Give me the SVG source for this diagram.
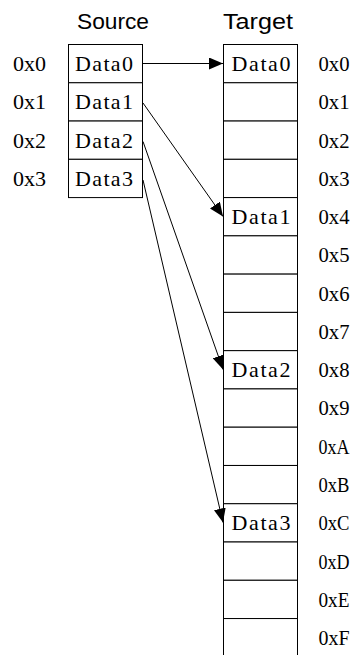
<svg xmlns="http://www.w3.org/2000/svg" width="357" height="655" viewBox="0 0 357 655">
<style>
.cell{fill:#fff;stroke:#000;stroke-width:1}
.mono{font-family:"Liberation Serif",serif;font-size:22px;fill:#000}
.title{font-family:"Liberation Sans",Arial,sans-serif;font-size:22px;fill:#000}
.conn{stroke:#000;stroke-width:1;fill:none;marker-end:url(#arr)}
</style>
<defs>
<marker id="arr" markerUnits="userSpaceOnUse" markerWidth="15" markerHeight="12" refX="14" refY="6" orient="auto">
<path d="M0,0 L14,6 L0,12 Z" fill="#000"/>
</marker>
</defs>
<rect width="357" height="655" fill="#fff"/>
<text class="title" x="77" y="29" textLength="72" lengthAdjust="spacingAndGlyphs">Source</text>
<text class="title" x="223" y="29" textLength="70" lengthAdjust="spacingAndGlyphs">Target</text>

<g id="source">
<g id="s0"><rect class="cell" x="68.5" y="44.5" width="74" height="38.27"/><text class="mono" x="13" y="71" textLength="33" lengthAdjust="spacingAndGlyphs">0x0</text><text class="mono" x="75" y="71" textLength="58" lengthAdjust="spacing">Data0</text></g>
<g id="s1"><rect class="cell" x="68.5" y="82.77" width="74" height="38.27"/><text class="mono" x="13" y="109.3" textLength="33" lengthAdjust="spacingAndGlyphs">0x1</text><text class="mono" x="75" y="109.3" textLength="58" lengthAdjust="spacing">Data1</text></g>
<g id="s2"><rect class="cell" x="68.5" y="121.04" width="74" height="38.27"/><text class="mono" x="13" y="147.5" textLength="33" lengthAdjust="spacingAndGlyphs">0x2</text><text class="mono" x="75" y="147.5" textLength="58" lengthAdjust="spacing">Data2</text></g>
<g id="s3"><rect class="cell" x="68.5" y="159.31" width="74" height="38.27"/><text class="mono" x="13" y="185.8" textLength="33" lengthAdjust="spacingAndGlyphs">0x3</text><text class="mono" x="75" y="185.8" textLength="58" lengthAdjust="spacing">Data3</text></g>
</g>

<g id="target">
<g id="t0"><rect class="cell" x="223.5" y="44.5" width="74" height="38.27"/><text class="mono" x="231.5" y="71" textLength="59" lengthAdjust="spacing">Data0</text><text class="mono" x="318.5" y="71" textLength="31" lengthAdjust="spacingAndGlyphs">0x0</text></g>
<g id="t1"><rect class="cell" x="223.5" y="82.77" width="74" height="38.27"/><text class="mono" x="318.5" y="109.3" textLength="31" lengthAdjust="spacingAndGlyphs">0x1</text></g>
<g id="t2"><rect class="cell" x="223.5" y="121.04" width="74" height="38.27"/><text class="mono" x="318.5" y="147.5" textLength="31" lengthAdjust="spacingAndGlyphs">0x2</text></g>
<g id="t3"><rect class="cell" x="223.5" y="159.31" width="74" height="38.27"/><text class="mono" x="318.5" y="185.8" textLength="31" lengthAdjust="spacingAndGlyphs">0x3</text></g>
<g id="t4"><rect class="cell" x="223.5" y="197.58" width="74" height="38.27"/><text class="mono" x="231.5" y="224.1" textLength="59" lengthAdjust="spacing">Data1</text><text class="mono" x="318.5" y="224.1" textLength="31" lengthAdjust="spacingAndGlyphs">0x4</text></g>
<g id="t5"><rect class="cell" x="223.5" y="235.85" width="74" height="38.27"/><text class="mono" x="318.5" y="262.4" textLength="31" lengthAdjust="spacingAndGlyphs">0x5</text></g>
<g id="t6"><rect class="cell" x="223.5" y="274.12" width="74" height="38.27"/><text class="mono" x="318.5" y="300.6" textLength="31" lengthAdjust="spacingAndGlyphs">0x6</text></g>
<g id="t7"><rect class="cell" x="223.5" y="312.39" width="74" height="38.27"/><text class="mono" x="318.5" y="338.9" textLength="31" lengthAdjust="spacingAndGlyphs">0x7</text></g>
<g id="t8"><rect class="cell" x="223.5" y="350.66" width="74" height="38.27"/><text class="mono" x="231.5" y="377.2" textLength="59" lengthAdjust="spacing">Data2</text><text class="mono" x="318.5" y="377.2" textLength="31" lengthAdjust="spacingAndGlyphs">0x8</text></g>
<g id="t9"><rect class="cell" x="223.5" y="388.93" width="74" height="38.27"/><text class="mono" x="318.5" y="415.4" textLength="31" lengthAdjust="spacingAndGlyphs">0x9</text></g>
<g id="t10"><rect class="cell" x="223.5" y="427.2" width="74" height="38.27"/><text class="mono" x="318.5" y="453.7" textLength="31" lengthAdjust="spacingAndGlyphs">0xA</text></g>
<g id="t11"><rect class="cell" x="223.5" y="465.47" width="74" height="38.27"/><text class="mono" x="318.5" y="492" textLength="31" lengthAdjust="spacingAndGlyphs">0xB</text></g>
<g id="t12"><rect class="cell" x="223.5" y="503.74" width="74" height="38.27"/><text class="mono" x="231.5" y="530.2" textLength="59" lengthAdjust="spacing">Data3</text><text class="mono" x="318.5" y="530.2" textLength="31" lengthAdjust="spacingAndGlyphs">0xC</text></g>
<g id="t13"><rect class="cell" x="223.5" y="542.01" width="74" height="38.27"/><text class="mono" x="318.5" y="568.5" textLength="31" lengthAdjust="spacingAndGlyphs">0xD</text></g>
<g id="t14"><rect class="cell" x="223.5" y="580.28" width="74" height="38.27"/><text class="mono" x="318.5" y="606.8" textLength="31" lengthAdjust="spacingAndGlyphs">0xE</text></g>
<g id="t15"><rect class="cell" x="223.5" y="618.55" width="74" height="38.27"/><text class="mono" x="318.5" y="645.1" textLength="31" lengthAdjust="spacingAndGlyphs">0xF</text></g>
</g>

<g id="connectors">
<path class="conn" d="M142.5,63.5 L223,63.5"/>
<path class="conn" d="M143,103 L223,216.5"/>
<path class="conn" d="M143,141.5 L223,369.5"/>
<path class="conn" d="M143,180 L223,522.5"/>
</g>
</svg>
